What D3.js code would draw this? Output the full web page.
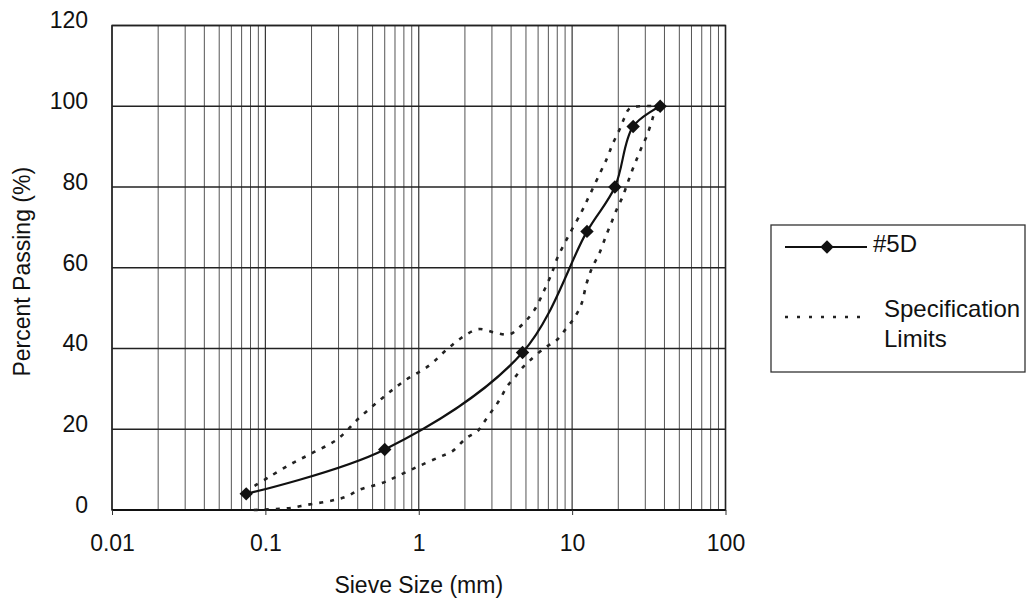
<!DOCTYPE html>
<html>
<head>
<meta charset="utf-8">
<script src="https://cdn.jsdelivr.net/npm/d3@7"></script>
<style>
  html, body { margin: 0; padding: 0; background: #ffffff; }
  svg { display: block; }
  text { font-family: "Liberation Sans", Arial, sans-serif; fill: #111; }
</style>
</head>
<body>
<svg id="chart" width="1028" height="601"></svg>
<script>
// ---- Data ----
const sieveSizes = [0.075, 0.6, 4.75, 12.5, 19, 25, 37.5];
const passing5D  = [4, 15, 39, 69, 80, 95, 100];

// Specification limits (sieve size mm, percent passing)
const upperSpecX = [0.085, 0.106, 0.147, 0.202, 0.294, 0.409, 0.578, 0.80, 1.17, 1.51, 1.89, 2.45, 3.1, 3.9, 4.75, 5.67, 6.59, 7.43, 8.01, 9.32, 11.5, 13.0, 15.1, 17.0, 18.3, 20.3, 21.9, 23.6, 27.5, 37.5];
const upperSpecY = [6, 8.2, 11.4, 14.1, 17.5, 22.8, 27.7, 31.9, 35.8, 39.6, 42.6, 44.8, 44, 43.5, 46, 49.5, 54.5, 59, 62.4, 67.4, 73.8, 78, 83.2, 87.4, 90.5, 94.1, 97.1, 99.4, 100, 100];
const lowerSpecX = [0.084, 0.147, 0.171, 0.202, 0.245, 0.29, 0.336, 0.41, 0.578, 0.71, 0.98, 1.36, 1.66, 2.04, 2.41, 2.67, 2.93, 3.20, 3.45, 3.78, 4.20, 4.73, 5.26, 6.59, 7.89, 9.17, 10.3, 11.5, 12.4, 13.5, 15.1, 16.7, 18.0, 19.7, 21.3, 23.0, 24.7, 26.7, 28.3, 30.5, 32.9, 34.5, 37.5];
const lowerSpecY = [0, 0.5, 1.0, 1.5, 2.0, 2.6, 3.3, 5, 6.7, 8.2, 10.7, 13.1, 14.6, 17.8, 19.5, 21.8, 24, 26, 28, 30.7, 32.7, 35.2, 36.9, 40.1, 42, 45, 47.5, 51, 56, 60, 63.7, 68.1, 71.1, 74.8, 77.5, 81, 84.2, 87.4, 89.7, 92.4, 96, 98.3, 100];

const xTickValues = [0.01, 0.1, 1, 10, 100];
const xTickLabels = ["0.01", "0.1", "1", "10", "100"];
const yTickValues = [0, 20, 40, 60, 80, 100, 120];

const xTitle = "Sieve Size (mm)";
const yTitle = "Percent Passing (%)";
const legendLabels = ["#5D", ["Specification", "Limits"]];

// ---- Layout ----
const plot = { left: 112, right: 725.5, top: 25.5, bottom: 510 };
const svg = d3.select("#chart");

const x = d3.scaleLog().domain([0.01, 100]).range([plot.left, plot.right]);
const y = d3.scaleLinear().domain([0, 120]).range([plot.bottom, plot.top]);

// minor vertical gridlines
const minorVals = [];
for (let d = -2; d < 2; d++) {
  for (let m = 2; m <= 9; m++) minorVals.push(m * Math.pow(10, d));
}
const g = svg.append("g");
g.selectAll("line.minor").data(minorVals).enter().append("line")
  .attr("x1", d => x(d)).attr("x2", d => x(d))
  .attr("y1", plot.top).attr("y2", plot.bottom)
  .attr("stroke", "#555").attr("stroke-width", 1);
g.selectAll("line.major").data(xTickValues).enter().append("line")
  .attr("x1", d => x(d)).attr("x2", d => x(d))
  .attr("y1", plot.top).attr("y2", plot.bottom)
  .attr("stroke", "#333").attr("stroke-width", 1.2);
// horizontal gridlines
g.selectAll("line.h").data(yTickValues).enter().append("line")
  .attr("x1", plot.left).attr("x2", plot.right)
  .attr("y1", d => y(d)).attr("y2", d => y(d))
  .attr("stroke", "#222").attr("stroke-width", 1.4);

// frame
svg.append("rect")
  .attr("x", plot.left).attr("y", plot.top)
  .attr("width", plot.right - plot.left).attr("height", plot.bottom - plot.top)
  .attr("fill", "none").attr("stroke", "#222").attr("stroke-width", 1.5);
svg.append("line")
  .attr("x1", plot.left).attr("x2", plot.right)
  .attr("y1", plot.bottom).attr("y2", plot.bottom)
  .attr("stroke", "#111").attr("stroke-width", 2.2);

// x axis ticks/labels
const xAxis = d3.axisBottom(x).tickValues(xTickValues)
  .tickFormat((d, i) => xTickLabels[i]).tickSize(5).tickPadding(20);
const xg = svg.append("g").attr("transform", `translate(0,${plot.bottom})`).call(xAxis);
xg.select(".domain").remove();
xg.selectAll(".tick line").attr("stroke", "#333");
xg.selectAll("text").attr("font-size", 23).attr("font-family", "Liberation Sans, Arial, sans-serif").attr("fill", "#111");

// y axis labels
const yAxis = d3.axisLeft(y).tickValues(yTickValues).tickSize(0).tickPadding(24);
const yg = svg.append("g").attr("transform", `translate(${plot.left},0)`).call(yAxis);
yg.select(".domain").remove();
yg.selectAll("text").attr("font-size", 23).attr("dy", "0.1em")
  .attr("font-family", "Liberation Sans, Arial, sans-serif").attr("fill", "#111");

// titles
svg.append("text").attr("x", (plot.left + plot.right) / 2).attr("y", 593)
  .attr("text-anchor", "middle").attr("font-size", 23).text(xTitle);
svg.append("text")
  .attr("transform", `translate(30,${(plot.top + plot.bottom) / 2 + 4}) rotate(-90)`)
  .attr("text-anchor", "middle").attr("font-size", 23).text(yTitle);

// spec limit curves
const line = d3.line().x(d => x(d[0])).y(d => y(d[1])).curve(d3.curveCatmullRom.alpha(0.5));
const upper = upperSpecX.map((v, i) => [v, upperSpecY[i]]);
const lower = lowerSpecX.map((v, i) => [v, lowerSpecY[i]]);
[upper, lower].forEach(pts => {
  svg.append("path").attr("d", line(pts))
    .attr("fill", "none").attr("stroke", "#222").attr("stroke-width", 2.6)
    .attr("stroke-dasharray", "4,7");
});

// main series
const series = sieveSizes.map((v, i) => [v, passing5D[i]]);
svg.append("path").attr("d", line(series))
  .attr("fill", "none").attr("stroke", "#111").attr("stroke-width", 2.2);
svg.selectAll("path.marker").data(series).enter().append("path")
  .attr("class", "marker")
  .attr("d", d3.symbol().type(d3.symbolSquare).size(90))
  .attr("transform", d => `translate(${x(d[0])},${y(d[1])}) rotate(45)`)
  .attr("fill", "#111");

// legend
const lg = svg.append("g");
lg.append("rect").attr("x", 771).attr("y", 225).attr("width", 254).attr("height", 147)
  .attr("fill", "#fff").attr("stroke", "#333").attr("stroke-width", 1.3);
lg.append("line").attr("x1", 785).attr("x2", 867).attr("y1", 247).attr("y2", 247)
  .attr("stroke", "#111").attr("stroke-width", 2.2);
lg.append("path").attr("d", d3.symbol().type(d3.symbolSquare).size(90))
  .attr("transform", "translate(827,247) rotate(45)").attr("fill", "#111");
lg.append("text").attr("x", 873).attr("y", 252).attr("font-size", 24).text(legendLabels[0]);
lg.append("line").attr("x1", 785).attr("x2", 868).attr("y1", 317).attr("y2", 317)
  .attr("stroke", "#222").attr("stroke-width", 2.4).attr("stroke-dasharray", "3,9");
lg.append("text").attr("x", 884).attr("y", 317).attr("font-size", 24).text(legendLabels[1][0]);
lg.append("text").attr("x", 884).attr("y", 347).attr("font-size", 24).text(legendLabels[1][1]);
</script>
</body>
</html>
